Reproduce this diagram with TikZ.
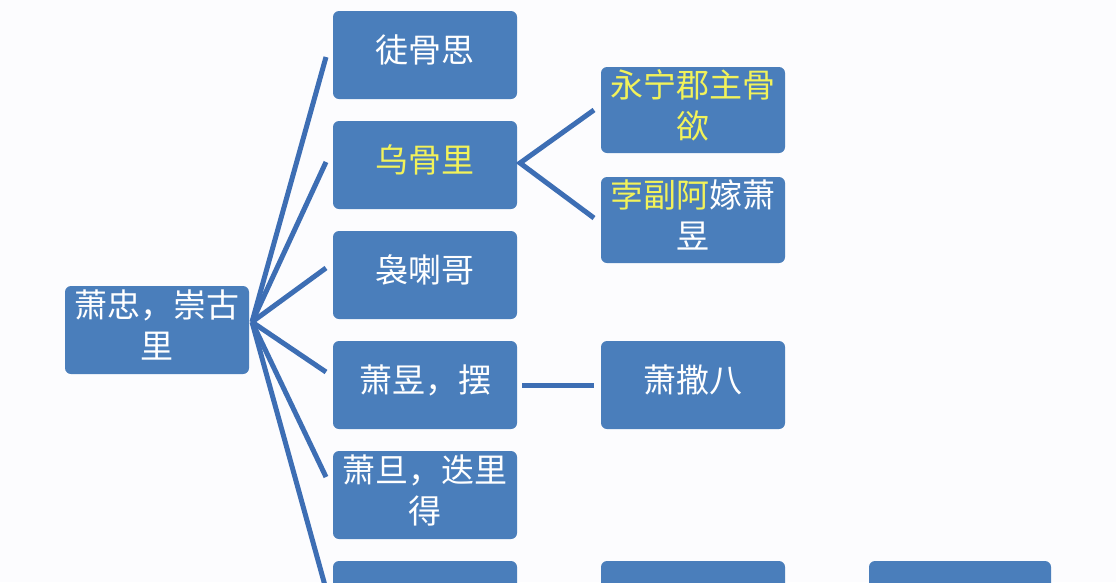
\documentclass[tikz,border=0pt]{standalone}
\usepackage{fontspec}
\newfontfamily\cjk{Noto Sans CJK SC}
\definecolor{boxblue}{HTML}{4A7EBB}
\definecolor{linkblue}{HTML}{3D6EB4}
\definecolor{ytext}{HTML}{F2F25A}
\definecolor{bg}{HTML}{FCFCFE}
\tikzset{
  card/.style={rectangle, rounded corners=6pt, fill=boxblue, draw=none,
    minimum width=184pt, minimum height=88pt, inner sep=0pt, text=white,
    text depth=12pt,
    align=center, font=\cjk\fontsize{33pt}{41pt}\selectfont},
  link/.style={draw=linkblue, line width=5pt}
}
\begin{document}
\begin{tikzpicture}[x=1pt,y=-1pt]
\fill[bg] (0,0) rectangle (1116,582);
\useasboundingbox (0,0) rectangle (1116,582);
\clip (0,0) rectangle (1116,582);
% root
\node[card] (root) at (157,330) {萧忠，崇古\\里};
% column 1
\node[card] (c1) at (425,55) {徒骨思};
\node[card] (c2) at (425,165) {\textcolor{ytext}{乌骨里}};
\node[card] (c3) at (425,275) {袅喇哥};
\node[card] (c4) at (425,385) {萧昱，摆};
\node[card] (c5) at (425,495) {萧旦，迭里\\得};
\node[card] (c6) at (425,605) {};
% column 2
\node[card, minimum height=86pt] (d1) at (693,110) {\textcolor{ytext}{永宁郡主骨}\\\textcolor{ytext}{欲}};
\node[card, minimum height=86pt] (d2) at (693,220) {\textcolor{ytext}{孛副阿}嫁萧\\昱};
\node[card] (d4) at (693,385) {萧撒八};
\node[card] (d6) at (693,605) {};
% column 3
\node[card, minimum width=182pt] (e6) at (960,605) {};
% hub
\coordinate (hub) at (252,322);
\coordinate (p1) at (326,57);
\coordinate (p2) at (326,162);
\coordinate (p3) at (326,268);
\coordinate (p4) at (326,372);
\coordinate (p5) at (326,477);
\coordinate (p6) at (329,600);
\foreach \p in {p1,p2,p3,p4,p5,p6}
  \draw[link] (hub) -- (\p);
\coordinate (fork) at (520,163);
\coordinate (q1) at (594,110);
\coordinate (q2) at (594,218);
\draw[link] (q1) -- (fork) -- (q2);
\coordinate (h1) at (522,385);
\coordinate (h2) at (594,385);
\draw[link] (h1) -- (h2);
\end{tikzpicture}
\end{document}
